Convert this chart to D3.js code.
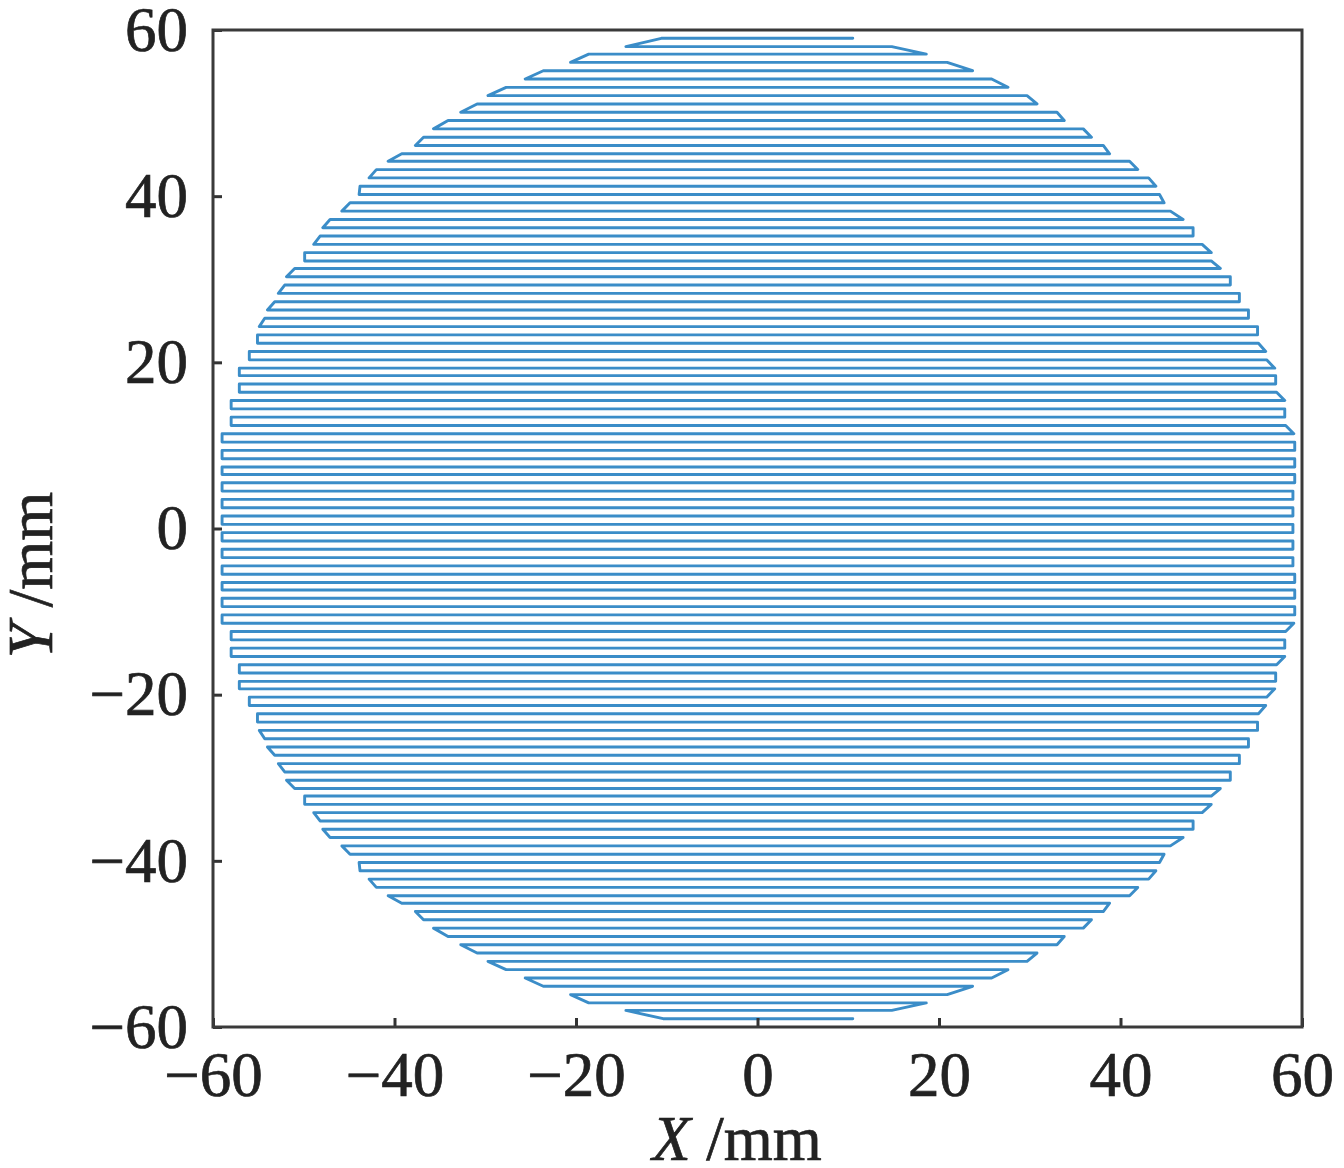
<!DOCTYPE html>
<html>
<head>
<meta charset="utf-8">
<script src="https://cdn.jsdelivr.net/npm/d3@7"></script>
<style>
  html, body { margin: 0; padding: 0; background: #fff; }
  svg { display: block; }
  .tick text, .title { font-family: "Liberation Serif", serif; font-size: 63px; fill: #222; stroke: #222; stroke-width: 0.7px; }
</style>
</head>
<body>
<div id="chart"></div>
<script>
// scan rows, top to bottom (mm)
const rowY = [
  59.0, 58.0, 57.1, 56.1, 55.1, 54.1, 53.1, 52.1, 51.1, 50.1,
  49.1, 48.1, 47.1, 46.1, 45.1, 44.2, 43.2, 42.2, 41.2, 40.2,
  39.2, 38.2, 37.2, 36.2, 35.2, 34.2, 33.2, 32.2, 31.3, 30.3,
  29.3, 28.3, 27.3, 26.3, 25.3, 24.3, 23.3, 22.3, 21.3, 20.3,
  19.3, 18.4, 17.4, 16.4, 15.4, 14.4, 13.4, 12.4, 11.4, 10.4,
  9.4, 8.4, 7.4, 6.5, 5.5, 4.5, 3.5, 2.5, 1.5, 0.5,
  -0.5, -1.5, -2.5, -3.5, -4.5, -5.5, -6.5, -7.4, -8.4, -9.4,
  -10.4, -11.4, -12.4, -13.4, -14.4, -15.4, -16.4, -17.4, -18.4, -19.3,
  -20.3, -21.3, -22.3, -23.3, -24.3, -25.3, -26.3, -27.3, -28.3, -29.3,
  -30.3, -31.3, -32.2, -33.2, -34.2, -35.2, -36.2, -37.2, -38.2, -39.2,
  -40.2, -41.2, -42.2, -43.2, -44.2, -45.1, -46.1, -47.1, -48.1, -49.1,
  -50.1, -51.1, -52.1, -53.1, -54.1, -55.1, -56.1, -57.1, -58.0, -59.0
];

// left end of each row (mm)
const rowLeft = [
  -10.6, -14.5, -18.6, -20.6, -23.6, -25.6, -27.7, -29.7, -30.9, -32.7,
  -34.1, -35.7, -36.8, -37.7, -39.2, -40.7, -42.0, -42.8, -43.8, -43.9,
  -44.9, -45.8, -47.1, -47.9, -48.2, -48.9, -49.9, -49.9, -51.0, -51.9,
  -52.1, -52.8, -53.2, -54.0, -54.3, -54.9, -55.1, -55.1, -56.0, -56.0,
  -57.1, -57.1, -57.1, -57.1, -58.0, -58.0, -58.0, -58.0, -59.0, -59.0,
  -59.0, -59.0, -59.0, -59.0, -59.0, -59.0, -59.0, -59.0, -59.0, -59.0,
  -59.0, -59.0, -59.0, -59.0, -59.0, -59.0, -59.0, -59.0, -59.0, -59.0,
  -59.0, -59.0, -58.0, -58.0, -58.0, -58.0, -57.1, -57.1, -57.1, -57.1,
  -56.0, -56.0, -55.1, -55.1, -54.9, -54.3, -54.0, -53.2, -52.8, -52.1,
  -51.9, -51.0, -49.9, -49.9, -48.9, -48.2, -47.9, -47.1, -45.8, -44.9,
  -43.9, -43.8, -42.8, -42.0, -40.7, -39.2, -37.7, -36.8, -35.7, -34.1,
  -32.7, -30.9, -29.7, -27.7, -25.6, -23.6, -20.6, -18.6, -14.5, -10.4
];

// right end of each row (mm)
const rowRight = [
  10.5, 14.8, 18.6, 20.9, 23.7, 25.8, 27.6, 29.7, 30.8, 33.0,
  33.8, 35.9, 36.8, 38.1, 38.8, 41.0, 41.9, 43.1, 43.9, 44.3,
  44.8, 45.5, 46.9, 48.0, 48.0, 49.0, 50.0, 50.0, 51.0, 52.1,
  52.1, 53.1, 53.1, 54.1, 54.1, 55.1, 55.1, 55.2, 56.0, 56.1,
  57.0, 57.1, 57.1, 57.2, 58.1, 58.1, 58.1, 58.2, 59.1, 59.2,
  59.2, 59.2, 59.2, 59.2, 59.2, 59.0, 59.0, 59.0, 59.0, 59.0,
  59.0, 59.0, 59.0, 59.0, 59.0, 59.2, 59.2, 59.2, 59.2, 59.2,
  59.2, 59.1, 58.2, 58.1, 58.1, 58.1, 57.2, 57.1, 57.1, 57.0,
  56.1, 56.0, 55.2, 55.1, 55.1, 54.1, 54.1, 53.1, 53.1, 52.1,
  52.1, 51.0, 50.0, 50.0, 49.0, 48.0, 48.0, 46.9, 45.5, 44.8,
  44.3, 43.9, 43.1, 41.9, 41.0, 38.8, 38.1, 36.8, 35.9, 33.8,
  33.0, 30.8, 29.7, 27.6, 25.8, 23.7, 20.9, 18.6, 14.8, 10.5
];

const xTicks = [-60, -40, -20, 0, 20, 40, 60];
const yTicks = [-60, -40, -20, 0, 20, 40, 60];

const W = 1344, H = 1168;
const svg = d3.select("#chart").append("svg")
    .attr("width", W)
    .attr("height", H);

const x = d3.scaleLinear().domain([-60, 60]).range([213, 1302]);
const y = d3.scaleLinear().domain([-60, 60]).range([1027, 30]);

// boustrophedon path: first row runs leftwards, next rightwards, and so on
const pts = [];
rowY.forEach(function(v, i) {
    if (i % 2 === 0) {
        pts.push([rowRight[i], v], [rowLeft[i], v]);
    } else {
        pts.push([rowLeft[i], v], [rowRight[i], v]);
    }
});

const line = d3.line()
    .x(function(d) { return x(d[0]); })
    .y(function(d) { return y(d[1]); });

svg.append("path")
    .datum(pts)
    .attr("d", line)
    .attr("fill", "none")
    .attr("stroke", "#3b8dc8")
    .attr("stroke-width", 2.9)
    .attr("stroke-linejoin", "round")
    .attr("stroke-linecap", "round");

// axes, ticks pointing inward
const gx = svg.append("g")
    .attr("transform", "translate(0," + y(-60) + ")")
    .call(d3.axisBottom(x).tickValues(xTicks).tickSize(-9).tickPadding(24));
const gy = svg.append("g")
    .attr("transform", "translate(" + x(-60) + ",0)")
    .call(d3.axisLeft(y).tickValues(yTicks).tickSize(-9).tickPadding(25));

[gx, gy].forEach(function(g) {
    g.select(".domain").remove();
    g.selectAll(".tick line").attr("stroke", "#333").attr("stroke-width", 3);
    g.selectAll(".tick text").attr("font-family", null).attr("font-size", null);
});

// frame
svg.append("rect")
    .attr("x", x(-60))
    .attr("y", y(60))
    .attr("width", x(60) - x(-60))
    .attr("height", y(-60) - y(60))
    .attr("fill", "none")
    .attr("stroke", "#3a3a3a")
    .attr("stroke-width", 3);

// axis titles
const xt = svg.append("text")
    .attr("class", "title")
    .attr("x", 737)
    .attr("y", 1160)
    .attr("text-anchor", "middle");
xt.append("tspan").attr("font-style", "italic").text("X");
xt.append("tspan").text(" /mm");

const yt = svg.append("text")
    .attr("class", "title")
    .attr("transform", "translate(52,575) rotate(-90)")
    .attr("text-anchor", "middle");
yt.append("tspan").attr("font-style", "italic").text("Y");
yt.append("tspan").text(" /mm");
</script>
</body>
</html>
